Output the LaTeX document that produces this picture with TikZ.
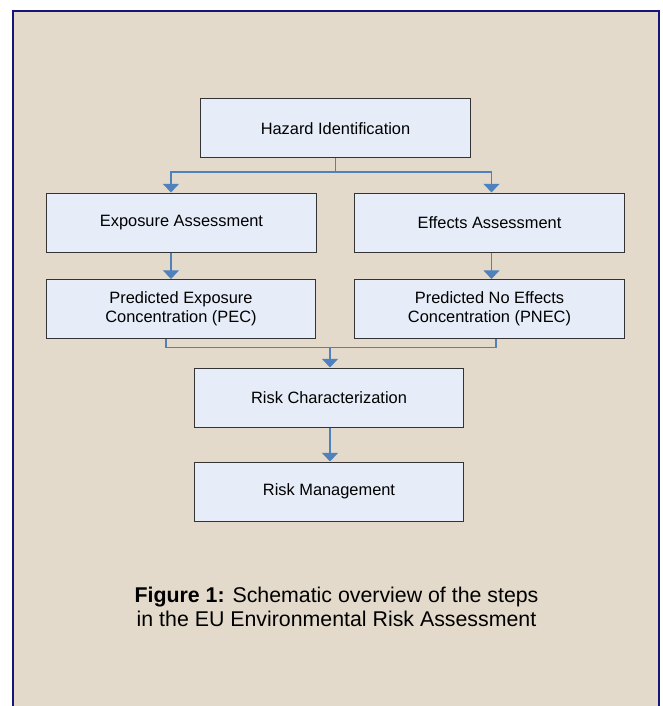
\documentclass[tikz,border=0pt]{standalone}
\usepackage{fontspec}
\setmainfont{Liberation Sans}
\usetikzlibrary{arrows.meta,calc}

\definecolor{paper}{HTML}{E3DACB}
\definecolor{frameblue}{HTML}{16167A}
\definecolor{boxfill}{HTML}{E6EDF8}
\definecolor{linkblue}{HTML}{4F81BD}

\begin{document}
\begin{tikzpicture}[x=0.75pt, y=-0.75pt,
  stage/.style={draw=black!80, fill=boxfill, line width=0.75pt, minimum width=202pt, minimum height=44.25pt, inner sep=0pt, align=center, font=\fontsize{12.3}{14.25}\selectfont},
  wire/.style={draw=linkblue, line width=0.9pt},
  flow/.style={wire, -{Triangle[width=12pt,length=6.5pt]}}]
\useasboundingbox (0,0) rectangle (662,706);
% paper and frame
\fill[paper] (13,11) rectangle (659,720);
\draw[frameblue, line width=1.6pt] (13,720) -- (13,11) -- (659,11) -- (659,720);

% steps of the assessment
\node[stage] (H) at (335.5,128.5) {Hazard Identification};
\node[stage] (E) at (181.5,222.5) {Exposure Assessment};
\node[stage] (F) at (489.5,222.5) {Effects Assessment};
\node[stage] (PEC) at (181,309) {Predicted Exposure\\Concentration (PEC)};
\node[stage] (PNEC) at (489.5,309) {Predicted No Effects\\Concentration (PNEC)};
\node[stage] (RC) at (329,397.5) {Risk Characterization};
\node[stage] (RM) at (329,491.5) {Risk Management};

\coordinate (split) at (335.5,172);
\coordinate (merge) at (330,347.5);

\draw[wire] (H) -- (split);
\draw[flow] (split) -| ([xshift=-7.9pt]E.north);
\draw[flow] (split) -| ([xshift=1.5pt]F.north);
\draw[flow] ([xshift=-7.9pt]E.south) -- ([xshift=-7.9pt]E.south |- PEC.north);
\draw[flow] ([xshift=1.5pt]F.south) -- ([xshift=1.5pt]F.south |- PNEC.north);
\draw[wire] ([xshift=-11.25pt]PEC.south) |- (merge);
\draw[wire] ([xshift=4.9pt]PNEC.south) |- (merge);
\draw[flow] (merge) -- (merge |- RC.north);
\draw[flow] ([xshift=0.75pt]RC.south) -- ([xshift=0.75pt]RM.north);

% caption
\node[inner sep=0pt, align=center, font=\fontsize{16}{18}\selectfont] (cap) at (336.5,607) {\textbf{Figure 1:} Schematic overview of the steps\\in the EU Environmental Risk Assessment};

\end{tikzpicture}
\end{document}
